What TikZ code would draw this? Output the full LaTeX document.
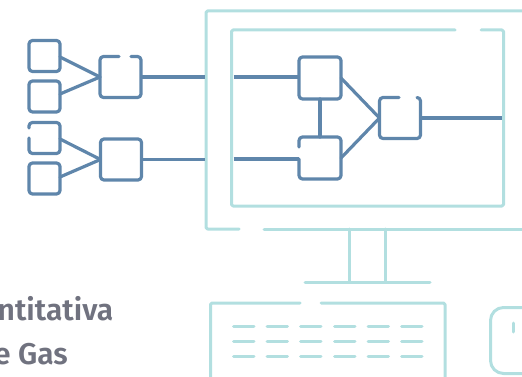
\documentclass[tikz,border=0pt]{standalone}
\usepackage{fontspec}
\setmainfont{Fira Sans}
\newfontfamily\capfont{Fira Sans SemiBold}
\definecolor{flow}{HTML}{5F86AB}
\definecolor{screen}{HTML}{B2DFE0}
\definecolor{label}{HTML}{70727F}
\tikzset{
  x=1pt,y=-1pt,
  flowline/.style={draw=flow,line width=3.2pt,line cap=round,line join=round},
  tealline/.style={draw=screen,line width=3pt,line cap=round,line join=round,rounded corners=1.5pt},
  blockbox/.style={flowline,rounded corners=3.5pt,minimum width=#1,minimum height=#1,inner sep=0pt,outer sep=0pt},
  blockhole/.style={minimum width=#1,minimum height=#1,inner sep=0pt,outer sep=0pt},
  gapline/.style={flowline,rounded corners=3.5pt},
  captext/.style={text=label,font=\capfont\fontsize{30}{33}\selectfont,inner sep=0pt,anchor=base east}
}
\begin{document}
\begin{tikzpicture}
\clip (0,0) rectangle (522,377);
% input blocks
\node[blockbox=31pt] (i1) at (44.5,56) {};
\node[blockbox=31pt] (i2) at (44.5,96.5) {};
\node[blockhole=31pt] (i3) at (44.5,138) {};
\node[blockbox=31pt] (i4) at (44.5,178.5) {};
\node[blockhole=41pt] (s1) at (120.5,77) {};
\node[blockbox=41pt] (s2) at (121,159.5) {};
\draw[gapline] (29,138) -- (i3.south west) -- (i3.south east) -- (i3.north east) -- (i3.north west) -- (29,128);
\draw[gapline] (119,56.5) -- (s1.north west) -- (s1.south west) -- (s1.south east) -- (s1.north east) -- (131,56.5);
% monitor
\coordinate (ml) at (206,11);
\coordinate (mr) at (530,11);
\coordinate (mbl) at (206,229);
\coordinate (mbr) at (530,229);
\coordinate (g1) at (239,229);
\coordinate (g2) at (264,229);
\draw[tealline] (mr) -- (ml) -- (mbl) -- (g1);
\draw[tealline] (g2) -- (mbr);
\coordinate (st1) at (231.5,30);
\coordinate (st2) at (503.5,30);
\coordinate (st3) at (503.5,206);
\coordinate (st4) at (231.5,206);
\coordinate (t1) at (455,30);
\coordinate (t2) at (481,30);
\draw[tealline] (t1) -- (st1) -- (st4) -- (st3) -- (st2) -- (t2);
% stand
\coordinate (a1) at (349.5,229);
\coordinate (a2) at (349.5,282);
\coordinate (b1) at (385.5,229);
\coordinate (b2) at (385.5,282);
\coordinate (c1) at (305,282);
\coordinate (c2) at (430,282);
\draw[tealline] (a1) -- (a2);
\draw[tealline] (b1) -- (b2);
\draw[tealline] (c1) -- (c2);
% keyboard
\coordinate (k1) at (210.5,385);
\coordinate (k2) at (210.5,303);
\coordinate (k3) at (300,303);
\coordinate (k4) at (321,303);
\coordinate (k5) at (445,303);
\coordinate (k6) at (445,385);
\draw[tealline] (k3) -- (k2) -- (k1);
\draw[tealline] (k4) -- (k5) -- (k6);
\foreach \y in {326,341.3,356.3}
  \foreach \x in {233.5,267,300.5,334.5,368,401.5}
    \draw[tealline] (\x,\y) -- ++(20.5,0);
% mouse
\draw[draw=screen,line width=3pt,rounded corners=13pt] (535,307.5) -- (490.5,307.5) -- (490.5,373.5) -- (535,373.5);
\draw[tealline] (513,323) -- (513,332);
% inner blocks
\node[blockbox=42pt] (p1) at (320,78) {};
\node[blockhole=42pt] (p2) at (320,158) {};
\node[blockhole=41pt] (p3) at (400,118) {};
\draw[gapline] (299,147) -- (p2.north west) -- (p2.north east) -- (p2.south east) -- (p2.south west) -- (299,159);
\draw[gapline] (399,97.5) -- (p3.north west) -- (p3.south west) -- (p3.south east) -- (p3.north east) -- (417,97.5);
% connectors
\draw[flowline] (i1.east |- 0,57) -- (s1.west);
\draw[flowline] (i2.east |- 0,94) -- (s1.west);
\draw[flowline] (i3.east |- 0,139) -- (s2.west);
\draw[flowline] (i4.east |- 0,177) -- (s2.west);
\coordinate (e1) at (205,77);
\coordinate (e2) at (205,159.5);
\coordinate (e3) at (233.5,77);
\coordinate (e4) at (233.5,159);
\coordinate (e5) at (501.5,118);
\draw[flowline,line cap=butt] (s1.east) -- (e1);
\draw[flowline,line cap=butt] (s2.east) -- (e2);
\draw[flowline,line cap=butt] (e3) -- (p1.west |- e3);
\draw[flowline,line cap=butt] (e4) -- (p2.west |- e4);
\draw[flowline] (p1.south) -- (p2.north);
\draw[flowline] (p1.east |- 0,78) -- (p3.west);
\draw[flowline] (p2.east |- 0,158) -- (p3.west);
\draw[flowline,line cap=butt] (p3.east) -- (e5);
% text
\node[captext] (t1l) at (113.5,320.5) {ntitativa};
\node[captext] (t2l) at (68,364.5) {e Gas};
\end{tikzpicture}
\end{document}
